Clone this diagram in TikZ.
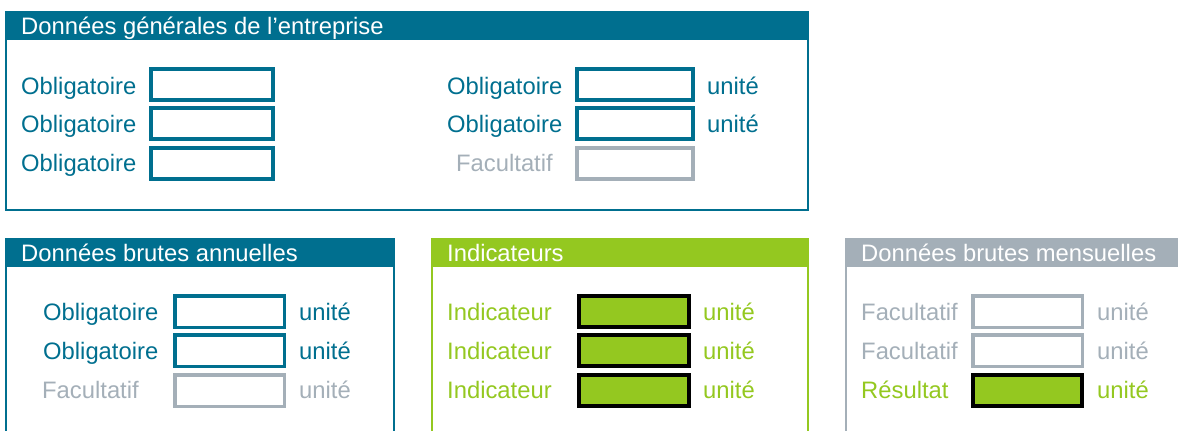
\documentclass[tikz,border=0pt]{standalone}
\usepackage{fontspec}
\setmainfont{Liberation Sans}
\definecolor{petrol}{RGB}{0,111,143}
\definecolor{lime}{RGB}{148,200,32}
\definecolor{mist}{RGB}{164,175,184}
\tikzset{
  txt/.style={anchor=base west, inner sep=0pt, font=\fontsize{23.8}{28}\selectfont},
  hdr/.style={txt, text=white},
  fld/.style={draw, line width=3.8pt, minimum height=31.5pt, inner sep=0pt},
  res/.style={fld, draw=black, fill=lime, line width=4pt},
  frame/.style={line width=2pt},
}
\begin{document}
\begin{tikzpicture}[x=1pt,y=-1pt]
\useasboundingbox (0,0) rectangle (1178,431);
\begin{scope}
\clip (0,0) rectangle (1178,431);

% --- general company data panel
\draw[frame, petrol] (6,12) rectangle (808,210);
\fill[petrol] (5,11) rectangle (809,40);
\node[hdr] (hGen) at (21,34.5) {Données générales de l’entreprise};

\node[txt, petrol] (g1) at (21,94) {Obligatoire};
\node[txt, petrol] (g2) at (21,132.7) {Obligatoire};
\node[txt, petrol] (g3) at (21,171.7) {Obligatoire};
\node[fld, petrol, minimum width=122.2] (gb1) at (212,84.5) {};
\node[fld, petrol, minimum width=122.2] (gb2) at (212,123.5) {};
\node[fld, petrol, minimum width=122.2] (gb3) at (212,163.5) {};

\node[txt, petrol] (g4) at (447,94) {Obligatoire};
\node[txt, petrol] (g5) at (447,132.7) {Obligatoire};
\node[txt, mist] (g6) at (456,171.7) {Facultatif};
\node[fld, petrol, minimum width=116.2] (gb4) at (635,84.5) {};
\node[fld, petrol, minimum width=116.2] (gb5) at (635,123.5) {};
\node[fld, mist, minimum width=116.2] (gb6) at (635,163.5) {};
\node[txt, petrol] (gu4) at (707,94) {unité};
\node[txt, petrol] (gu5) at (707,132.7) {unité};

% --- yearly raw data panel
\draw[frame, petrol] (6,239) rectangle (394,445);
\fill[petrol] (5,238) rectangle (395,267);
\node[hdr] (hAnn) at (21,261.7) {Données brutes annuelles};

\node[txt, petrol] (a1) at (43,320.7) {Obligatoire};
\node[txt, petrol] (a2) at (43,359.3) {Obligatoire};
\node[txt, mist] (a3) at (42,398.3) {Facultatif};
\node[fld, petrol, line width=3.5pt, minimum width=109.5] (ab1) at (229.5,311.5) {};
\node[fld, petrol, line width=3.5pt, minimum width=109.5] (ab2) at (229.5,350.5) {};
\node[fld, mist, line width=3.5pt, minimum width=109.5] (ab3) at (229.5,390.5) {};
\node[txt, petrol] (au1) at (299,320.7) {unité};
\node[txt, petrol] (au2) at (299,359.3) {unité};
\node[txt, mist] (au3) at (299,398.3) {unité};

% --- indicators panel
\draw[frame, lime] (432,239) rectangle (808,445);
\fill[lime] (431,238) rectangle (809,267);
\node[hdr] (hInd) at (447,261.7) {Indicateurs};

\node[txt, lime] (i1) at (447,320.7) {Indicateur};
\node[txt, lime] (i2) at (447,359.3) {Indicateur};
\node[txt, lime] (i3) at (447,398.3) {Indicateur};
\node[res, minimum width=110] (ib1) at (634,311.5) {};
\node[res, minimum width=110] (ib2) at (634,350.5) {};
\node[res, minimum width=110] (ib3) at (634,390.5) {};
\node[txt, lime] (iu1) at (703,320.7) {unité};
\node[txt, lime] (iu2) at (703,359.3) {unité};
\node[txt, lime] (iu3) at (703,398.3) {unité};

% --- monthly raw data panel
\draw[frame, mist] (846,239) rectangle (1190,445);
\fill[mist] (845,238) rectangle (1190,267);
\node[hdr] (hMon) at (861,261.7) {Données brutes mensuelles};

\node[txt, mist] (m1) at (861,320.7) {Facultatif};
\node[txt, mist] (m2) at (861,359.3) {Facultatif};
\node[txt, lime] (m3) at (861,398.3) {Résultat};
\node[fld, mist, line width=3.5pt, minimum width=109.5] (mb1) at (1027.5,311.5) {};
\node[fld, mist, line width=3.5pt, minimum width=109.5] (mb2) at (1027.5,350.5) {};
\node[res, minimum width=109] (mb3) at (1027.5,390.5) {};
\node[txt, mist] (mu1) at (1097,320.7) {unité};
\node[txt, mist] (mu2) at (1097,359.3) {unité};
\node[txt, lime] (mu3) at (1097,398.3) {unité};
\end{scope}
\end{tikzpicture}
\end{document}
